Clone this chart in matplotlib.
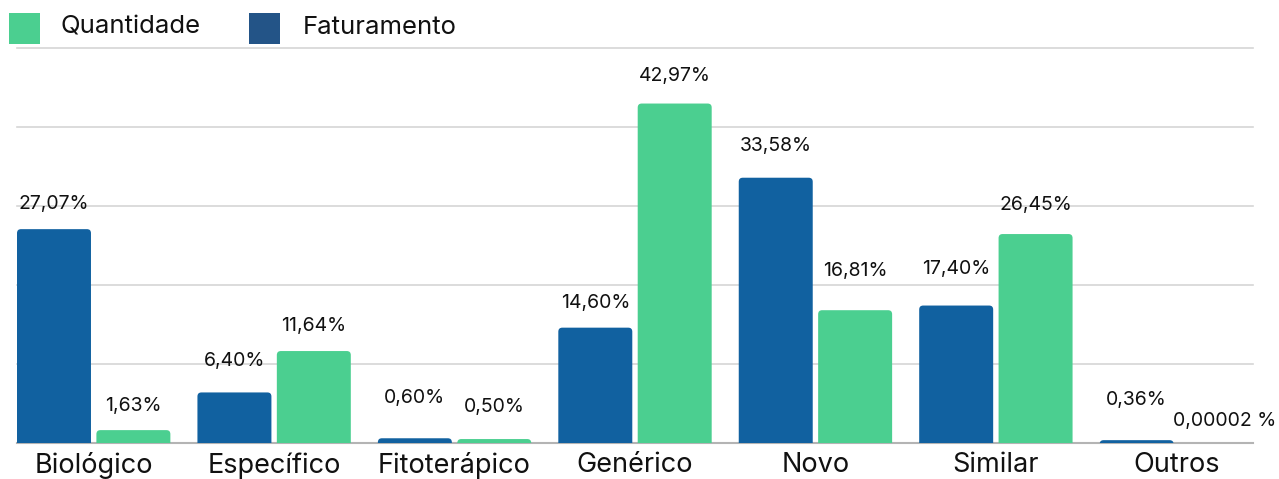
import numpy as np
import matplotlib.pyplot as plt
from matplotlib.patches import FancyBboxPatch, Rectangle

categorias = ["Biológico", "Específico", "Fitoterápico", "Genérico", "Novo", "Similar", "Outros"]
faturamento = [27.07, 6.40, 0.60, 14.60, 33.58, 17.40, 0.36]
quantidade = [1.63, 11.64, 0.50, 42.97, 16.81, 26.45, 0.00002]
rot_faturamento = ["27,07%", "6,40%", "0,60%", "14,60%", "33,58%", "17,40%", "0,36%"]
rot_quantidade = ["1,63%", "11,64%", "0,50%", "42,97%", "16,81%", "26,45%", "0,00002 %"]

# label offsets above bar tops (pixels), as placed in the original
off_fat = [25, 31, 40, 25, 32, 37, 40]
off_qtd = [24, 25, 32, 28, 39, 29, 22]

AZUL = "#1161a0"
AZUL_LEG = "#235487"
VERDE = "#4bcf90"
FONTE = ["Inter", "DejaVu Sans"]

W, H = 1279, 479
fig = plt.figure(figsize=(W / 100, H / 100), dpi=100)
ax = fig.add_axes([17 / W, 36 / H, (1253 - 17) / W, (443 - 48) / H])

largura = 0.41
desl = 0.22
x = np.arange(len(categorias))
ax.set_xlim(-desl - largura / 2, len(categorias) - 1 + desl + largura / 2)
ax.set_ylim(0, 50)

px_x = (1253 - 17) / (ax.get_xlim()[1] - ax.get_xlim()[0])
px_y = (443 - 48) / 50.0
raio = 4 / px_x


def barra(xc, v, cor):
    p = FancyBboxPatch((xc - largura / 2, -1), largura, v + 1,
                       boxstyle=f"round,pad=0,rounding_size={raio}",
                       mutation_aspect=px_x / px_y,
                       fc=cor, ec="none", zorder=3, clip_on=True)
    ax.add_patch(p)


for i in range(len(categorias)):
    barra(x[i] - desl, faturamento[i], AZUL)
    barra(x[i] + desl, quantidade[i], VERDE)
    ax.annotate(rot_faturamento[i], (x[i] - desl, faturamento[i]),
                xytext=(0, off_fat[i] * 0.72), textcoords="offset points",
                ha="center", va="center", fontsize=14, family=FONTE,
                color="#111111", annotation_clip=False)
    dx = 6 if i == len(categorias) - 1 else 0
    ax.annotate(rot_quantidade[i], (x[i] + desl, quantidade[i]),
                xytext=(dx, off_qtd[i] * 0.72), textcoords="offset points",
                ha="center", va="center", fontsize=14, family=FONTE,
                color="#111111", annotation_clip=False)

for y in [10, 20, 30, 40, 50]:
    ax.axhline(y, color="#d6d6d6", lw=1.2, zorder=1, clip_on=False)
ax.axhline(0, color="#b4b4b4", lw=1.5, zorder=2, clip_on=False)

for s in ax.spines.values():
    s.set_visible(False)
ax.set_yticks([])
ax.set_xticks(x)
ax.set_xticklabels(categorias, fontsize=19.5, family=FONTE, color="#111111")
ax.tick_params(axis="x", length=0, pad=6.5)

# legenda
fig.add_artist(Rectangle((9 / W, 1 - 44 / H), 31 / W, 31 / H,
                         transform=fig.transFigure, fc=VERDE, ec="none"))
fig.add_artist(Rectangle((249 / W, 1 - 44 / H), 31 / W, 31 / H,
                         transform=fig.transFigure, fc=AZUL_LEG, ec="none"))
fig.text(61 / W, 1 - 27 / H, "Quantidade", fontsize=18.5, family=FONTE,
         va="center", ha="left", color="#111111")
fig.text(303 / W, 1 - 27 / H, "Faturamento", fontsize=18.5, family=FONTE,
         va="center", ha="left", color="#111111")

fig.savefig("out.png", dpi=100, facecolor="white")
